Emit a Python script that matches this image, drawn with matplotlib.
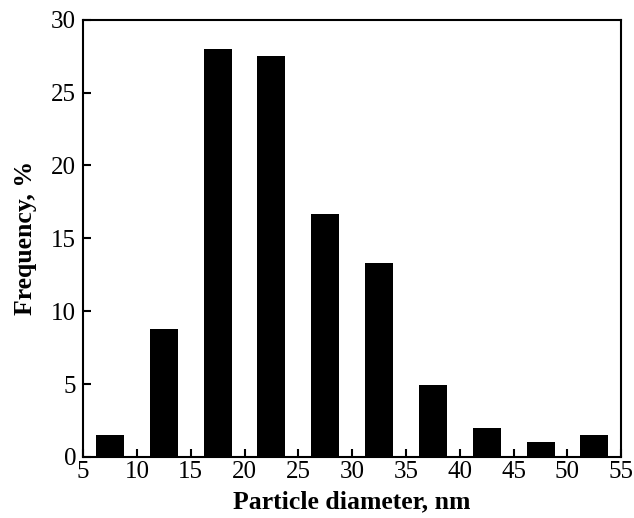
import matplotlib
matplotlib.use('Agg')
import matplotlib.pyplot as plt

# bin centres (nm) and frequencies (%)
diameters = [7.5, 12.5, 17.5, 22.5, 27.5, 32.5, 37.5, 42.5, 47.5, 52.5]
frequency = [1.5, 8.8, 28.0, 27.5, 16.7, 13.3, 4.9, 2.0, 1.0, 1.5]

plt.rcParams['font.family'] = 'Liberation Serif'

fig = plt.figure(figsize=(6.34, 5.18), dpi=100)
ax = fig.add_axes([0.131, 0.118, 0.849, 0.844])

ax.bar(diameters, frequency, width=2.6, color='black')

ax.set_xlim(5, 55)
ax.set_ylim(0, 30)
ax.set_xticks(range(5, 56, 5))
ax.set_yticks(range(0, 31, 5))
ax.tick_params(direction='in', length=6, width=1.5, labelsize=18)
ax.tick_params(axis='x', pad=3)
ax.tick_params(axis='y', pad=5)
for s in ax.spines.values():
    s.set_linewidth(1.5)

ax.set_xlabel('Particle diameter, nm', fontsize=18.5, fontweight='bold', labelpad=5)
ax.set_ylabel('Frequency, %', fontsize=18.5, fontweight='bold', labelpad=10)

fig.savefig('out.png', dpi=100)
